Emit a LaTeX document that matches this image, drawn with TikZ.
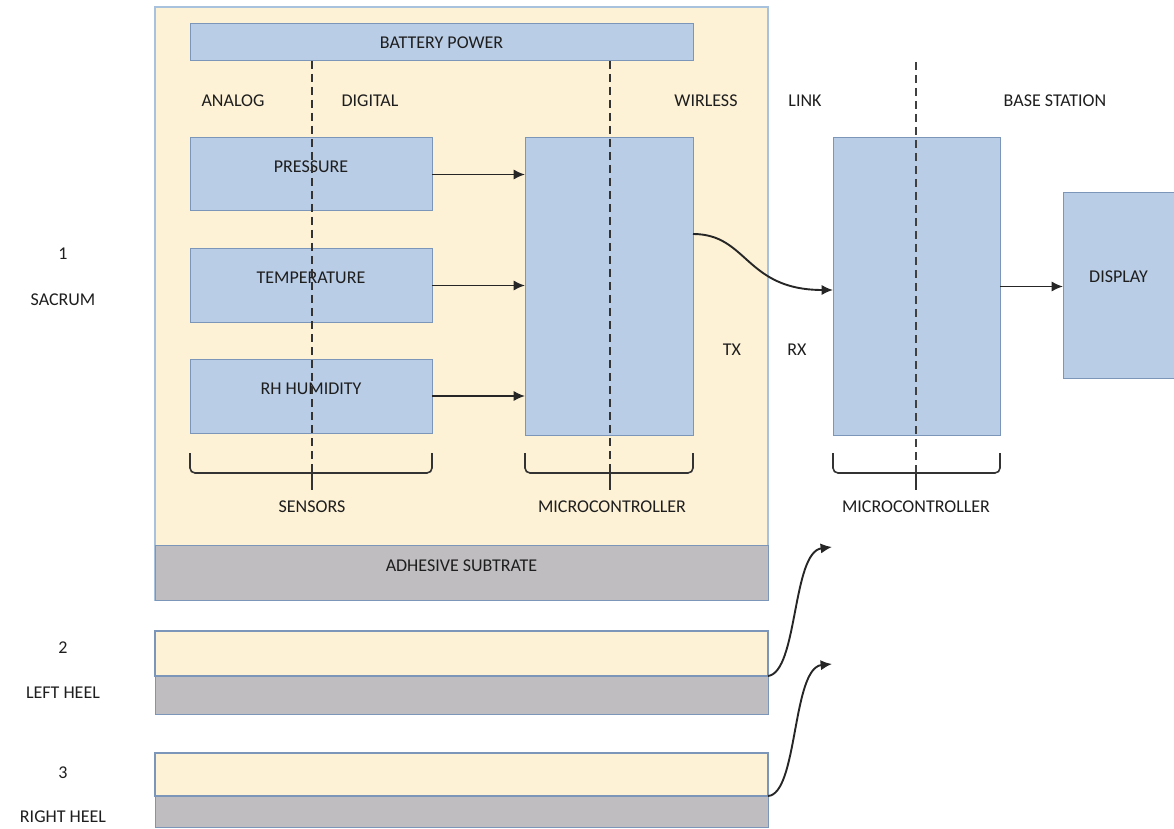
\documentclass[tikz,border=0pt]{standalone}
\usepackage{fontspec}
\setmainfont{Carlito}
\usepackage{tikz}
\usetikzlibrary{positioning,arrows.meta,calc}
\definecolor{cream}{RGB}{253,241,214}
\definecolor{boxblue}{RGB}{186,205,230}
\definecolor{edgeblue}{RGB}{124,150,186}
\definecolor{rimblue}{RGB}{168,194,222}
\definecolor{glue}{RGB}{191,189,192}
\definecolor{ink}{RGB}{30,30,30}
\newcommand{\lblfont}{\fontsize{9}{11}\selectfont}
\tikzset{
  blk/.style  ={draw=edgeblue, fill=boxblue, line width=0.5pt, inner sep=0pt,
                outer sep=0pt, font=\lblfont, text=ink},
  pan/.style  ={draw=rimblue, fill=cream, line width=0.6pt, inner sep=0pt, outer sep=0pt},
  gbox/.style ={draw=edgeblue, fill=glue, line width=0.5pt, inner sep=0pt,
                outer sep=0pt, font=\lblfont, text=ink},
  lbl/.style  ={font=\lblfont, text=ink, inner sep=1pt},
  ar/.style   ={-{Latex[length=2mm,width=1.8mm]}, draw=black!85, line width=0.95pt},
  dsh/.style  ={draw=black!80, line width=0.9pt, dash pattern=on 4pt off 2.5pt},
  brc/.style  ={draw=black!80, line width=0.8pt, rounded corners=2.5pt},
}
\begin{document}
\begin{tikzpicture}[x=0.5pt,y=-0.5pt]
\useasboundingbox (0,0) rectangle (1174,829);
% sacrum patch
\node (panel) [pan, minimum width=306.5pt, minimum height=296.5pt] at (461.5,303.5) {};
\node (adh) [gbox, minimum width=306.5pt, minimum height=27.5pt, text depth=6.5pt]
  at (461.5,572.5) {ADHESIVE SUBTRATE};
\node (batt) [blk, minimum width=251.5pt, minimum height=18.5pt] at (441.5,42.5) {BATTERY POWER};
\node (pres) [blk, minimum width=121pt, minimum height=36.5pt, text depth=7.5pt] at (311,174.5) {PRESSURE};
\node (temp) [blk, minimum width=121pt, minimum height=36.5pt, text depth=8pt] at (311,285.5) {TEMPERATURE};
\node (rh) [blk, minimum width=121pt, minimum height=37pt, text depth=7pt] at (311,396) {RH HUMIDITY};
\node (mc) [blk, minimum width=84pt, minimum height=148.5pt] at (609,286.5) {};

% base station
\node (bmc) [blk, minimum width=83.5pt, minimum height=148.5pt] at (916.5,286.5) {};
\node (disp) [blk, minimum width=55.5pt, minimum height=92.5pt, text depth=8.5pt] at (1118.5,285.5) {DISPLAY};

% heels
\node (h2t) [pan, draw=edgeblue, minimum width=306.5pt, minimum height=22.5pt] at (461.5,653.5) {};
\node (h2b) [gbox, minimum width=306.5pt, minimum height=19pt] at (461.5,695) {};
\node (h3t) [pan, draw=edgeblue, minimum width=306.5pt, minimum height=21.5pt] at (461.5,774.5) {};
\node (h3b) [gbox, minimum width=306.5pt, minimum height=15.5pt] at (461.5,811.5) {};

% dividers
\draw[dsh] (312,61) -- (312,473);
\draw[dsh] (610,61) -- (610,473);
\draw[dsh, line width=1.2pt, draw=black!75] (916,62) -- (916,473);

% braces
\foreach \a/\m/\b in {190/312/432, 525/610/693, 833/916/1000}{
  \draw[brc] (\a,453) -- (\a,473) -- (\b,473) -- (\b,453);
  \draw[draw=black!80, line width=1.1pt] (\m,473) -- (\m,490);
}

% arrows
\draw[ar] (pres.east) -- (pres.east -| mc.west);
\draw[ar] (temp.east) -- (temp.east -| mc.west);
\draw[ar] (rh.east) -- (rh.east -| mc.west);
\draw[ar] (bmc.east) -- (bmc.east -| disp.west);
\draw[ar] (mc.east |- 0,234) .. controls (748,234) and (745,290) .. (bmc.west |- 0,290);
\coordinate (rx2) at (832,547);
\coordinate (rx3) at (832,664);
\draw[ar] (h2b.north east) .. controls (798,672) and (792,552) .. (rx2);
\draw[ar] (h3b.north east) .. controls (798,794) and (792,668) .. (rx3);

% labels
\node (lana) [lbl] at (233,101) {ANALOG};
\node (ldig) [lbl] at (370,101) {DIGITAL};
\node (lwir) [lbl] at (706,101) {WIRLESS};
\node (llnk) [lbl] at (805,101) {LINK};
\node (lbas) [lbl] at (1055,101) {BASE STATION};
\node (ltx) [lbl] at (732,350) {TX};
\node (lrx) [lbl] at (797,350) {RX};
\node (lsen) [lbl] at (312,507) {SENSORS};
\node (lmc) [lbl] at (612,507) {MICROCONTROLLER};
\node (lbmc) [lbl] at (916,507) {MICROCONTROLLER};
\node (n1) [lbl] at (63,254) {1};
\node (lsac) [lbl] at (63,300) {SACRUM};
\node (n2) [lbl] at (63,648) {2};
\node (llh) [lbl] at (63,693) {LEFT HEEL};
\node (n3) [lbl] at (63,773) {3};
\node (lrh) [lbl] at (63,817) {RIGHT HEEL};
\end{tikzpicture}
\end{document}
